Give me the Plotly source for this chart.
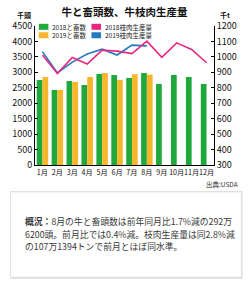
import plotly.graph_objects as go

months = ["1月", "2月", "3月", "4月", "5月", "6月", "7月", "8月", "9月", "10月", "11月", "12月"]
slaughter_2018 = [2752, 2430, 2720, 2590, 2945, 2912, 2820, 2977, 2623, 2913, 2848, 2623]
slaughter_2019 = [2848, 2430, 2687, 2848, 2977, 2752, 2938, 2926]
beef_2018 = [1012, 892, 996, 954, 1044, 1037, 1021, 1102, 997, 1091, 1048, 962]
beef_2019 = [1034, 896, 966, 1018, 1050, 1012, 1076, 1071]

left_ticks = list(range(0, 4501, 500))
right_ticks = list(range(300, 1201, 100))

GREEN = "#1fa83b"
YELLOW = "#f8b62d"
PINK = "#e6287f"
BLUE = "#2479bf"
FONT = "Noto Sans CJK JP"

series_names = ["2018と畜数", "2019と畜数", "2018枝肉生産量", "2019枝肉生産量"]
series_colors = [GREEN, YELLOW, PINK, BLUE]

fig = go.Figure()
fig.add_trace(go.Bar(x=months, y=slaughter_2018, name=series_names[0], marker_color=GREEN,
                     marker_line_width=0))
fig.add_trace(go.Bar(x=months[:len(slaughter_2019)], y=slaughter_2019, name=series_names[1],
                     marker_color=YELLOW, marker_line_width=0))
fig.add_trace(go.Scatter(x=months[:len(beef_2019)], y=beef_2019, name=series_names[3], mode="lines",
                         line=dict(color=BLUE, width=1.6), yaxis="y2"))
fig.add_trace(go.Scatter(x=months, y=beef_2018, name=series_names[2], mode="lines",
                         line=dict(color=PINK, width=1.6), yaxis="y2"))

W, H = 249, 281
L, R, T, B = 30, 32, 26, 116
pw, ph = W - L - R, H - T - B
px = lambda x: (x - L) / pw
py = lambda y: (H - B - y) / ph

axis_common = dict(showgrid=False, zeroline=False, showline=True, linecolor="black", linewidth=1,
                   ticks="inside", ticklen=3, tickcolor="black",
                   tickfont=dict(family=FONT, size=9, color="#111"))

fig.update_layout(
    width=W, height=H, margin=dict(l=L, r=R, t=T, b=B),
    paper_bgcolor="white", plot_bgcolor="white",
    barmode="group", bargap=0.23, bargroupgap=0,
    font=dict(family=FONT, color="#111"),
    showlegend=False,
    title=dict(text="<b>牛と畜頭数、牛枝肉生産量</b>", x=0.5, xref="container", xanchor="center",
               y=1 - 12.5 / H, yref="container", yanchor="middle",
               font=dict(family=FONT, size=10.5, color="#111")),
    xaxis=dict(showline=True, linecolor="black", linewidth=1, ticks="", showgrid=False, tickangle=0,
               tickfont=dict(family=FONT, size=7.2, color="#111")),
    yaxis=dict(range=[0, 4500], tickvals=left_ticks, **axis_common),
    yaxis2=dict(range=[300, 1200], tickvals=right_ticks, overlaying="y", side="right", **axis_common),
)

annos = [
    dict(text="<b>千頭</b>", x=px(19), y=py(15), xanchor="center", yanchor="middle", font=dict(size=7)),
    dict(text="<b>千t</b>", x=px(228), y=py(15), xanchor="center", yanchor="middle", font=dict(size=7)),
    dict(text="出典:USDA", x=px(244), y=py(184), xanchor="right", yanchor="middle",
         font=dict(size=6.5, color="#333")),
    dict(text="<b>概況：</b>8月の牛と畜頭数は前年同月比1.7%減の292万", x=px(17), y=py(221),
         xanchor="left", yanchor="middle", font=dict(size=8.8, color="#3a3a3a")),
    dict(text="6200頭。前月比では0.4%減。枝肉生産量は同2.8%減", x=px(17), y=py(234),
         xanchor="left", yanchor="middle", font=dict(size=8.8, color="#3a3a3a")),
    dict(text="の107万1394トンで前月とほぼ同水準。", x=px(17), y=py(247),
         xanchor="left", yanchor="middle", font=dict(size=8.8, color="#3a3a3a")),
]

# legend: two columns of two entries each, as in the reference
LEG_FS = 6.5
row_gap = LEG_FS * 1.3
row_y = [26.8, 26.8 + row_gap]
for col, lx in enumerate([34, 89]):
    names = series_names[2 * col: 2 * col + 2]
    colors = series_colors[2 * col: 2 * col + 2]
    for color, ly in zip(colors, row_y):
        fig.add_shape(type="rect", xref="paper", yref="paper", x0=px(lx), x1=px(lx + 10),
                      y0=py(ly + 3), y1=py(ly - 3), fillcolor=color, line=dict(width=0))
    annos.append(dict(text="<br>".join(names), x=px(lx + 12), y=py(sum(row_y) / 2),
                      xanchor="left", yanchor="middle", align="left",
                      font=dict(size=LEG_FS, color="#222")))

for a in annos:
    a.update(xref="paper", yref="paper", showarrow=False)
    a["font"].setdefault("family", FONT)
    fig.add_annotation(**a)

fig.add_shape(type="rect", xref="paper", yref="paper", x0=px(4), x1=px(247), y0=py(279), y1=py(191),
              fillcolor="#e4e4e4", line=dict(width=0), layer="below")
fig.add_shape(type="rect", xref="paper", yref="paper", x0=px(4.5), x1=px(245.5), y0=py(277), y1=py(192),
              fillcolor="white", line=dict(color="#d8d8d8", width=0.6), layer="below")

fig.write_html("out.html")
